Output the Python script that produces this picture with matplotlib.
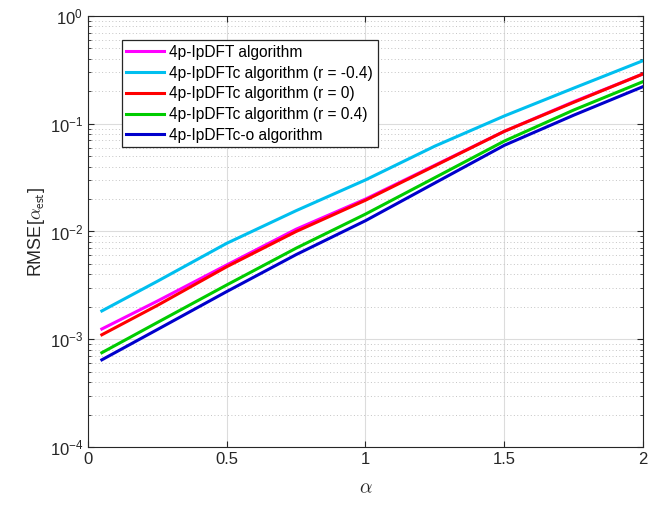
import numpy as np
import matplotlib
matplotlib.use("Agg")
import matplotlib.pyplot as plt

plt.rcParams['font.family'] = ['Liberation Sans', 'DejaVu Sans']
plt.rcParams['mathtext.fontset'] = 'cm'

# ------------------------------------------------------------
# data
# ------------------------------------------------------------
alpha = [0.05, 0.25, 0.5, 0.75, 1.0, 1.25, 1.5, 1.75, 2.0]

rmse_ipdft = [1.245e-3, 2.26e-3, 4.89e-3, 1.05e-2, 2.0e-2, 4.12e-2, 8.5e-2, 0.16, 0.29]
rmse_c_neg = [1.83e-3, 3.45e-3, 7.77e-3, 1.56e-2, 3.01e-2, 6.2e-2, 0.118, 0.214, 0.385]
rmse_c_zero = [1.10e-3, 2.06e-3, 4.71e-3, 1.00e-2, 1.95e-2, 4.07e-2, 8.5e-2, 0.158, 0.29]
rmse_c_pos = [7.5e-4, 1.43e-3, 3.19e-3, 7.0e-3, 1.45e-2, 3.16e-2, 6.9e-2, 0.134, 0.246]
rmse_c_o = [6.44e-4, 1.23e-3, 2.77e-3, 6.1e-3, 1.26e-2, 2.82e-2, 6.3e-2, 0.12, 0.221]

labels = [
    "4p-IpDFT algorithm",
    "4p-IpDFTc algorithm (r = -0.4)",
    "4p-IpDFTc algorithm (r = 0)",
    "4p-IpDFTc algorithm (r = 0.4)",
    "4p-IpDFTc-o algorithm",
]
colors = ["#ff00ff", "#00bfef", "#ff0000", "#00cc00", "#0000cc"]
series = [rmse_ipdft, rmse_c_neg, rmse_c_zero, rmse_c_pos, rmse_c_o]

# ------------------------------------------------------------
# figure
# ------------------------------------------------------------
fig = plt.figure(figsize=(6.7, 5.05), dpi=100)
ax = fig.add_axes([0.1313, 0.1149, 0.8284, 0.8534])

for y, c, lab in zip(series, colors, labels):
    ax.plot(alpha, y, color=c, linewidth=2.2, label=lab)

ax.set_yscale("log")
ax.set_xlim(0, 2)
ax.set_ylim(1e-4, 1)
ax.set_xticks([0, 0.5, 1, 1.5, 2])
ax.set_xticklabels(["0", "0.5", "1", "1.5", "2"])

ax.grid(True, which="major", color="#dcdcdc", linewidth=0.8, linestyle="-")
ax.grid(True, which="minor", color="#c4c4c4", linewidth=0.7, linestyle=(0, (1, 2.5)))
ax.set_axisbelow(True)

ax.tick_params(which="both", direction="in", top=True, right=True,
               labelsize=12, colors="#262626")
ax.tick_params(which="major", length=4)
ax.tick_params(which="minor", length=2)
for s in ax.spines.values():
    s.set_color("#262626")
    s.set_linewidth(0.8)

ax.set_xlabel(r"$\alpha$", fontsize=14, color="#262626", labelpad=10)
ax.set_ylabel(r"RMSE[$\alpha_{\mathsf{est}}$]", fontsize=13, color="#262626", labelpad=2)

leg = ax.legend(loc="upper left", bbox_to_anchor=(0.061, 0.944),
                fontsize=11.2, fancybox=False, framealpha=1,
                edgecolor="#262626", handlelength=2.4,
                borderpad=0.3, labelspacing=0.37, handletextpad=0.35,
                borderaxespad=0)
leg.get_frame().set_linewidth(0.9)

fig.savefig("out.png", dpi=100)
